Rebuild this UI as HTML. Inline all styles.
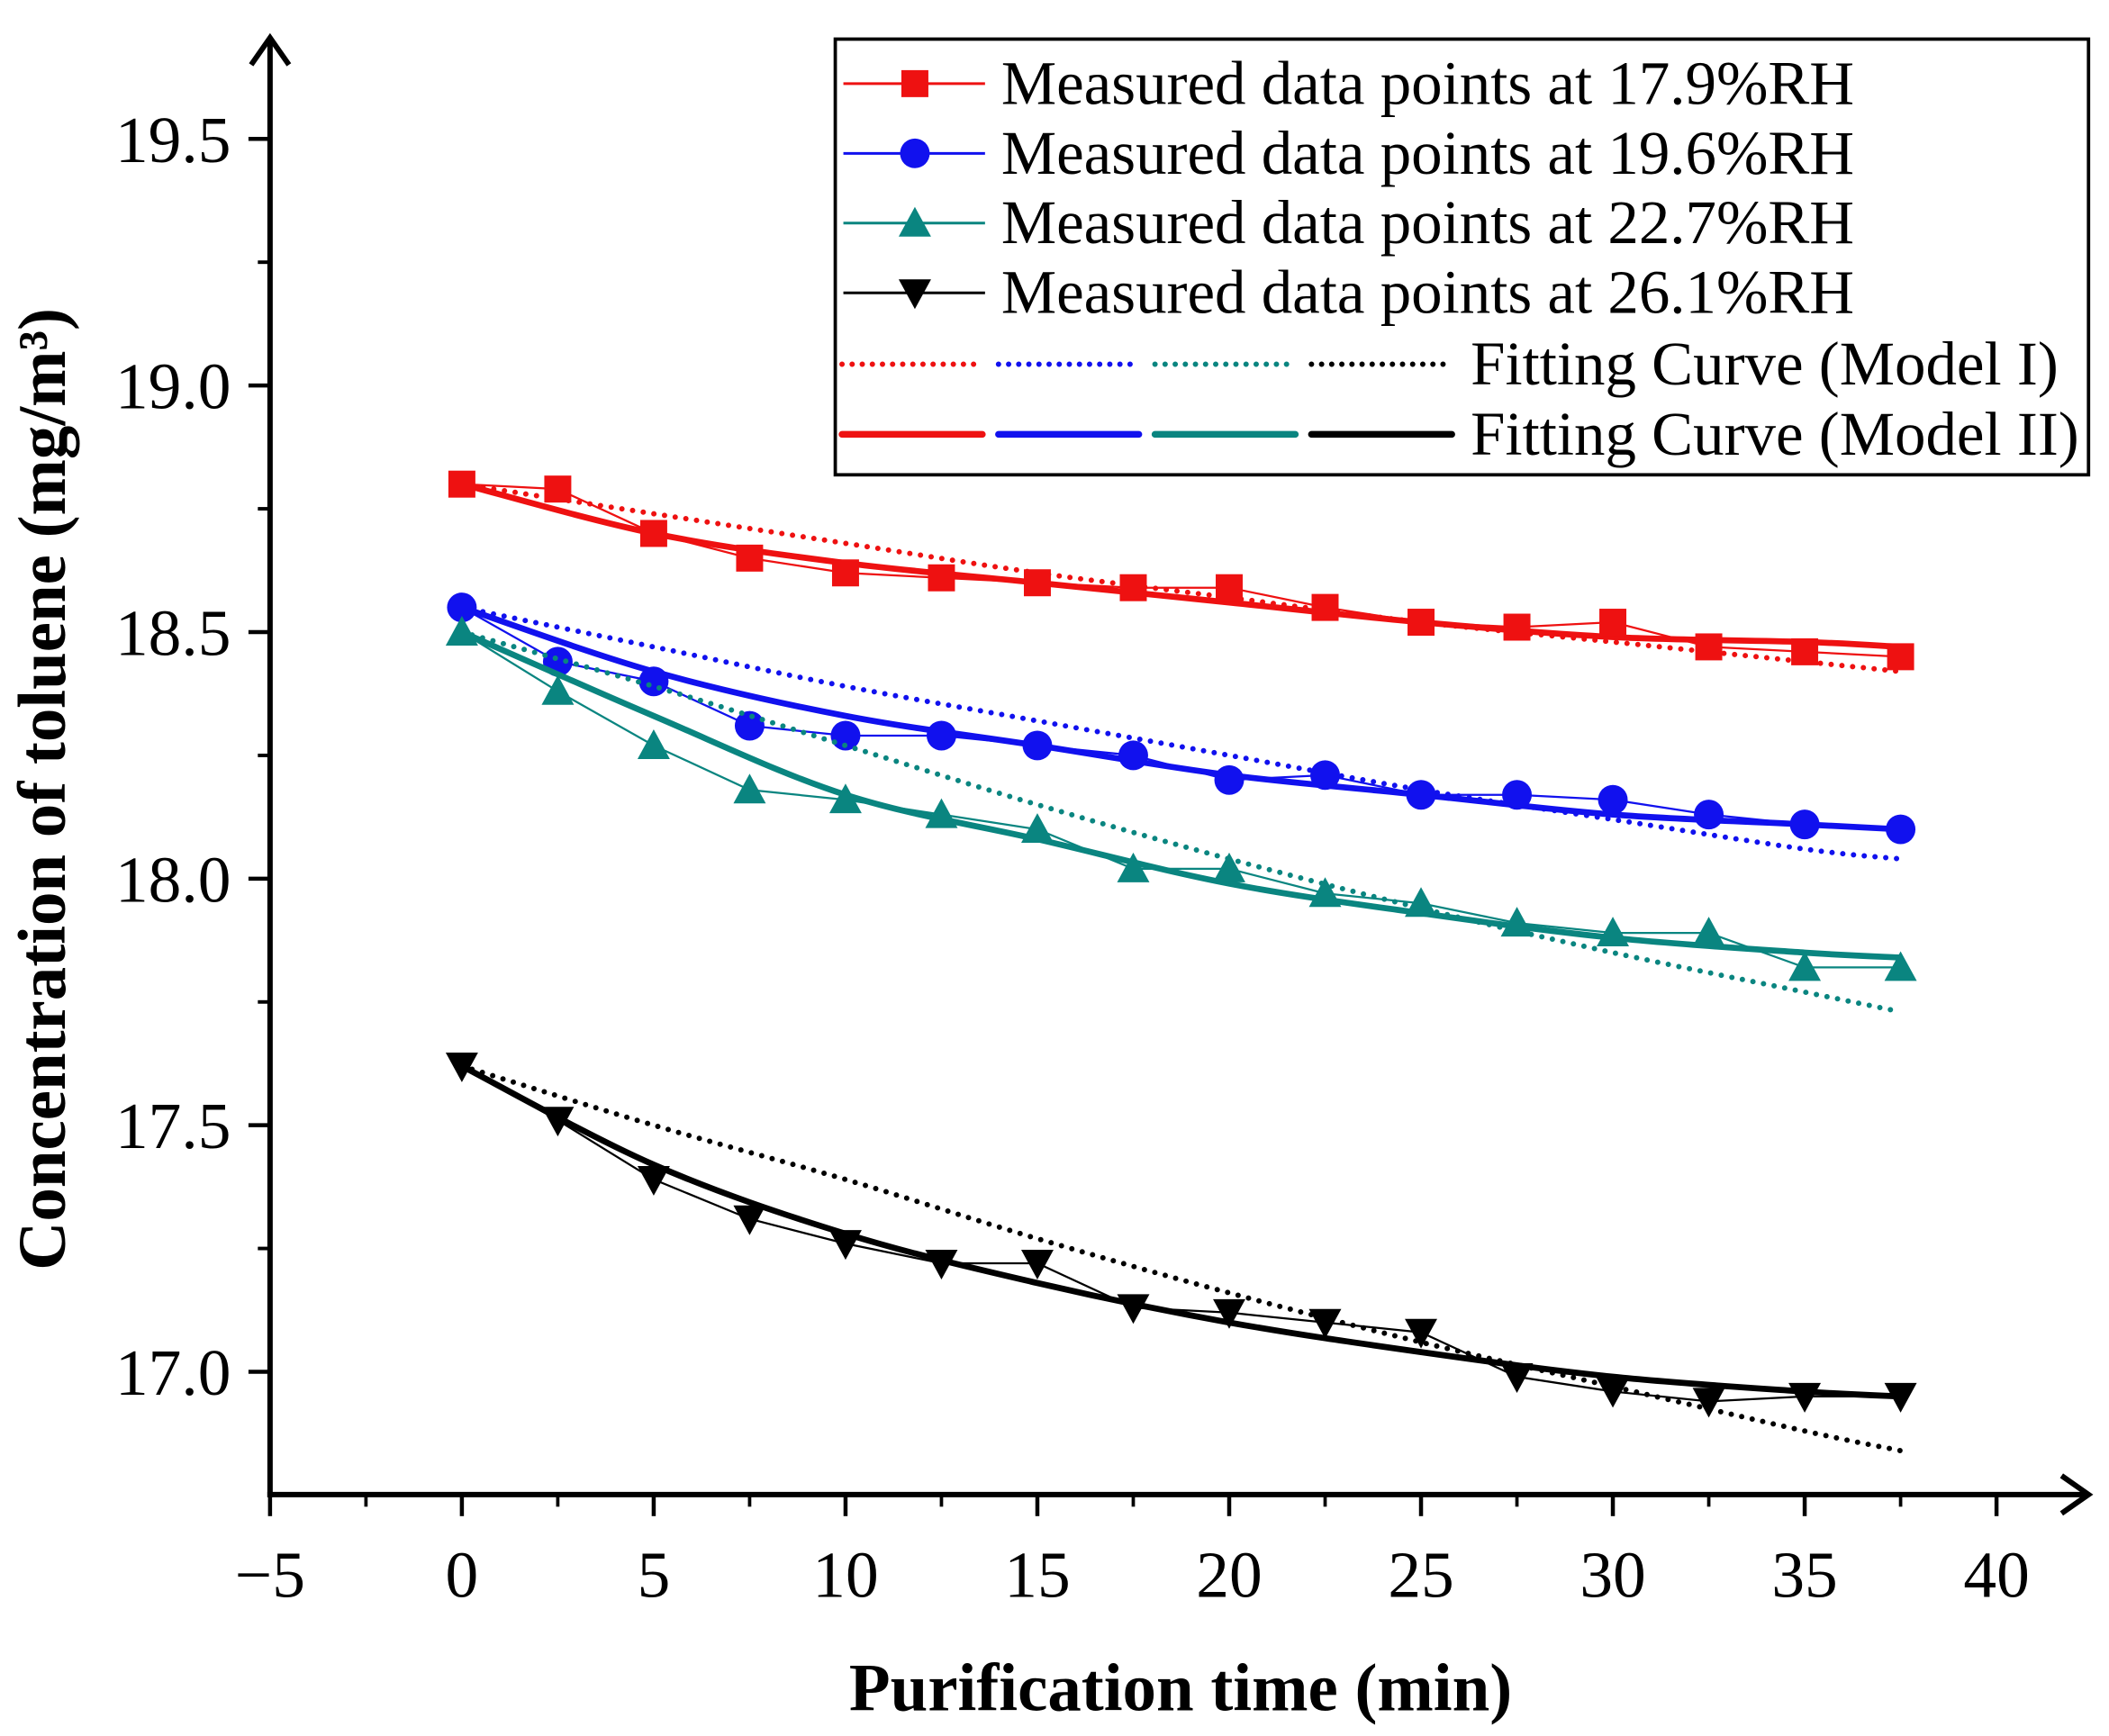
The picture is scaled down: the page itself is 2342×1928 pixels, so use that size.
<!DOCTYPE html>
<html><head><meta charset="utf-8"><style>
html,body{margin:0;padding:0;background:#fff}
svg{display:block}
text{font-family:"Liberation Serif",serif}
</style></head><body>
<svg id="chart" width="2342" height="1928" viewBox="0 0 1563 1287" xmlns="http://www.w3.org/2000/svg">
<g id="axes"></g>
<g id="series"></g>
<g id="legend">
<rect x="619" y="29" width="929" height="323" fill="#fff" stroke="#000" stroke-width="2.5"/>
</g>
<text x="875" y="1268" font-size="50" font-weight="bold" text-anchor="middle">Purification time (min)</text>
<text transform="translate(48,585) rotate(-90)" font-size="50" font-weight="bold" text-anchor="middle">Concentration of toluene (mg/m³)</text>
</svg>
<script>
const times=[0,2.5,5,7.5,10,12.5,15,17.5,20,22.5,25,27.5,30,32.5,35,37.5];
const red=[18.80,18.79,18.70,18.65,18.62,18.61,18.60,18.59,18.59,18.55,18.52,18.51,18.52,18.47,18.46,18.45];
const blue=[18.55,18.44,18.40,18.31,18.29,18.29,18.27,18.25,18.20,18.21,18.17,18.17,18.16,18.13,18.11,18.10];
const teal=[18.50,18.38,18.27,18.18,18.16,18.13,18.10,18.02,18.02,17.97,17.95,17.91,17.89,17.89,17.82,17.82];
const black=[17.62,17.51,17.39,17.31,17.26,17.22,17.22,17.13,17.12,17.10,17.08,16.99,16.96,16.94,16.95,16.95];
const fitTimes=[0,5,10,15,20,25,30,35,37.5];
const redFit1=[18.80,18.74,18.68,18.62,18.57,18.52,18.48,18.44,18.42];
const redFit2=[18.80,18.70,18.64,18.60,18.56,18.52,18.49,18.48,18.47];
const blueFit1=[18.55,18.47,18.39,18.32,18.25,18.18,18.12,18.06,18.04];
const blueFit2=[18.55,18.42,18.33,18.27,18.21,18.17,18.13,18.11,18.10];
const tealFit1=[18.50,18.39,18.27,18.15,18.04,17.94,17.85,17.77,17.73];
const tealFit2=[18.50,18.33,18.17,18.08,17.99,17.93,17.88,17.85,17.84];
const blackFit1=[17.62,17.50,17.39,17.27,17.16,17.06,16.97,16.88,16.84];
const blackFit2=[17.62,17.42,17.28,17.18,17.10,17.04,16.99,16.96,16.95];
const xTicks=[-5,0,5,10,15,20,25,30,35,40];
const yTicks=[17.0,17.5,18.0,18.5,19.0,19.5];

const NS="http://www.w3.org/2000/svg";
const X=v=>200+(v+5)*28.44;
const Y=v=>1017-(v-17)*365.6;
function mk(tag,attrs,parent){const e=document.createElementNS(NS,tag);for(const k in attrs)e.setAttribute(k,attrs[k]);parent.appendChild(e);return e;}
const ax=document.getElementById('axes');
const se=document.getElementById('series');
const lg=document.getElementById('legend');

let l=mk('line',{x1:198,y1:1108,x2:1545,y2:1108,stroke:'#000','stroke-width':4},ax);


l=mk('line',{x1:200,y1:1110,x2:200,y2:30,stroke:'#000','stroke-width':4},ax);


l=mk('polyline',{points:'1528,1094 1548,1108 1528,1122',fill:'none',stroke:'#000','stroke-width':4},ax);


l=mk('polyline',{points:'186,48 200,28 214,48',fill:'none',stroke:'#000','stroke-width':4},ax);



xTicks.forEach(v=>{
  const t=mk('line',{x1:X(v),y1:1108,x2:X(v),y2:1124,stroke:'#000','stroke-width':3},ax);
  
  
  if(v<40){const m=mk('line',{x1:X(v+2.5),y1:1108,x2:X(v+2.5),y2:1117,stroke:'#000','stroke-width':2.5},ax);
  
  }
  const tx=mk('text',{x:X(v),y:1184,'font-size':49,'text-anchor':'middle'},ax);
  tx.textContent=v<0?'\u2212'+Math.abs(v):String(v);
  
  
});
yTicks.forEach(v=>{
  const t=mk('line',{x1:184,y1:Y(v),x2:200,y2:Y(v),stroke:'#000','stroke-width':3},ax);
  
  
  [v-0.25,v+0.25].forEach(m=>{if(Y(m)<1108&&Y(m)>40){const mm=mk('line',{x1:191,y1:Y(m),x2:200,y2:Y(m),stroke:'#000','stroke-width':2.5},ax);
  
  }});
  const tx=mk('text',{x:171,y:Y(v)+17,'font-size':49,'text-anchor':'end'},ax);
  tx.textContent=v.toFixed(1);
  
  
});

function marker(type,cx,cy,color,parent,s){
  s=s||10;let e;
  if(type==='square')e=mk('rect',{x:cx-s,y:cy-s,width:2*s,height:2*s,fill:color},parent);
  else if(type==='circle')e=mk('circle',{cx:cx,cy:cy,r:s+1,fill:color},parent);
  else if(type==='up')e=mk('polygon',{points:`${cx},${cy-s-2} ${cx-s-2},${cy+s} ${cx+s+2},${cy+s}`,fill:color},parent);
  else e=mk('polygon',{points:`${cx},${cy+s+2} ${cx-s-2},${cy-s} ${cx+s+2},${cy-s}`,fill:color},parent);
  return e;
}
function smooth(xs,ys){
  const p=xs.map((x,i)=>[X(x),Y(ys[i])]);
  let d=`M${p[0][0]},${p[0][1]}`;
  for(let i=0;i<p.length-1;i++){
    const p0=p[i-1]||p[i],p1=p[i],p2=p[i+1],p3=p[i+2]||p2;
    d+=` C${p1[0]+(p2[0]-p0[0])/6},${p1[1]+(p2[1]-p0[1])/6} ${p2[0]-(p3[0]-p1[0])/6},${p2[1]-(p3[1]-p1[1])/6} ${p2[0]},${p2[1]}`;
  }
  return d;
}
const defs=[
 {name:'rh-17-9',vals:red,f1:redFit1,f2:redFit2,color:'#ee1111',m:'square'},
 {name:'rh-19-6',vals:blue,f1:blueFit1,f2:blueFit2,color:'#1111ee',m:'circle'},
 {name:'rh-22-7',vals:teal,f1:tealFit1,f2:tealFit2,color:'#0a8580',m:'up'},
 {name:'rh-26-1',vals:black,f1:blackFit1,f2:blackFit2,color:'#000000',m:'down'}
];
defs.forEach(s=>{
  const g=mk('g',{},se);
  
  
  let p=mk('path',{d:smooth(fitTimes,s.f1),fill:'none',stroke:s.color,'stroke-width':4,'stroke-dasharray':'0 8','stroke-linecap':'round'},g);
  
  
  p=mk('path',{d:smooth(fitTimes,s.f2),fill:'none',stroke:s.color,'stroke-width':4.5},g);
  
  
  p=mk('polyline',{points:times.map((t,i)=>X(t)+','+Y(s.vals[i])).join(' '),fill:'none',stroke:s.color,'stroke-width':1.5},g);
  
  
  times.forEach((t,i)=>{
    const m=marker(s.m,X(t),Y(s.vals[i]),s.color,g);
    
    
  });
});
const labels=['Measured data points at 17.9%RH','Measured data points at 19.6%RH','Measured data points at 22.7%RH','Measured data points at 26.1%RH'];
defs.forEach((s,i)=>{
  const y=62+i*51.7;
  const ln=mk('line',{x1:625,y1:y,x2:730,y2:y,stroke:s.color,'stroke-width':2},lg);
  
  
  const m=marker(s.m,678,y,s.color,lg);
  
  
  const t=mk('text',{x:742,y:y+15,'font-size':46},lg);
  t.textContent=labels[i];
  
  
});
[[270,'Fitting Curve (Model I)',true],[322,'Fitting Curve (Model II)',false]].forEach(([y,txt,dot])=>{
  defs.forEach((s,i)=>{
    const x0=624+i*116;
    const ln=mk('line',{x1:x0,y1:y,x2:x0+104,y2:y,stroke:s.color,'stroke-width':dot?4:5,'stroke-linecap':'round'},lg);
    if(dot)ln.setAttribute('stroke-dasharray','0 7.5');
    
    
  });
  const t=mk('text',{x:1090,y:y+15,'font-size':46},lg);
  t.textContent=txt;
  
  
});
</script>
</body></html>
